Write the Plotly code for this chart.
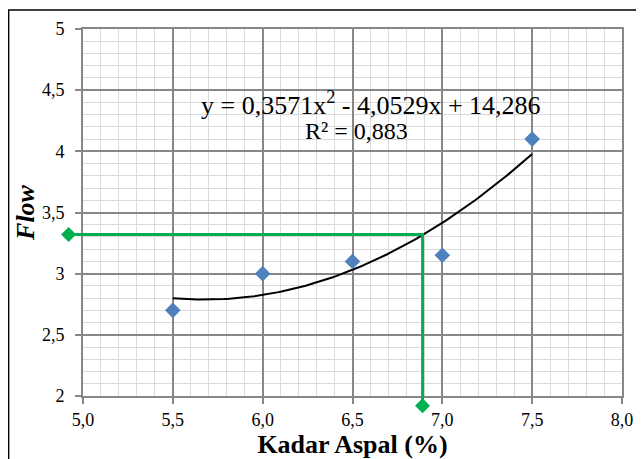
import numpy as np
import plotly.graph_objects as go

# Data
kadar_aspal = [5.5, 6.0, 6.5, 7.0, 7.5]
flow = [2.7, 3.0, 3.1, 3.15, 4.1]

# Green guide line (optimum reading)
guide_x = [4.92, 6.89, 6.89]
guide_y = [3.32, 3.32, 1.92]

x_range = [5, 8]
y_range = [2, 5]
x_ticks = [5.0, 5.5, 6.0, 6.5, 7.0, 7.5, 8.0]
x_ticktext = ["5,0", "5,5", "6,0", "6,5", "7,0", "7,5", "8,0"]
y_ticks = [2, 2.5, 3, 3.5, 4, 4.5, 5]
y_ticktext = ["2", "2,5", "3", "3,5", "4", "4,5", "5"]

eq_text = "y = 0,3571x<sup>2</sup> - 4,0529x + 14,286"
r2_text = "R² = 0,883"

# Polynomial trendline fitted from the data
coef = np.polyfit(kadar_aspal, flow, 2)
tx = np.linspace(min(kadar_aspal), max(kadar_aspal), 120)
ty = np.polyval(coef, tx)

FONT = "Liberation Serif"
MAJOR = "#878787"
MINOR = "#DADADA"
GREEN = "#00B050"


def to_paper(v, r):
    return (v - r[0]) / (r[1] - r[0])


fig = go.Figure()
fig.add_trace(go.Scatter(x=tx, y=ty, mode="lines",
                         line=dict(color="black", width=2), showlegend=False,
                         hoverinfo="skip"))
fig.add_trace(go.Scatter(x=guide_x, y=guide_y, mode="lines",
                         line=dict(color=GREEN, width=3), showlegend=False))
# parts of the guide line that lie outside the plot area (not clipped)
fig.add_shape(type="line", xref="paper", yref="paper",
              x0=to_paper(guide_x[0], x_range), y0=to_paper(guide_y[0], y_range),
              x1=0, y1=to_paper(guide_y[1], y_range),
              line=dict(color=GREEN, width=3))
fig.add_shape(type="line", xref="paper", yref="paper",
              x0=to_paper(guide_x[1], x_range), y0=0,
              x1=to_paper(guide_x[2], x_range), y1=to_paper(guide_y[2], y_range),
              line=dict(color=GREEN, width=3))
# diamond end markers of the guide line (outside the plot area)
for gx, gy in [(guide_x[0], guide_y[0]), (guide_x[-1], guide_y[-1])]:
    fig.add_shape(type="path", xref="paper", yref="paper",
                  xsizemode="pixel", ysizemode="pixel",
                  xanchor=to_paper(gx, x_range), yanchor=to_paper(gy, y_range),
                  path="M -7.5 0 L 0 7.5 L 7.5 0 L 0 -7.5 Z",
                  fillcolor=GREEN, line=dict(color=GREEN, width=0))
fig.add_trace(go.Scatter(x=kadar_aspal, y=flow, mode="markers",
                         marker=dict(symbol="diamond", size=12, color="#4F81BD"),
                         showlegend=False))

fig.add_annotation(x=6.603, y=4.391, xref="x", yref="y", text=eq_text, showarrow=False,
                   font=dict(family=FONT, size=26, color="black"))
fig.add_annotation(x=6.525, y=4.17, xref="x", yref="y", text=r2_text, showarrow=False,
                   font=dict(family=FONT, size=24, color="black"))

# Outer chart frame
fig.add_shape(type="rect", xref="paper", yref="paper",
              x0=-0.138, y0=-0.3, x1=1.2, y1=1.052,
              line=dict(color="black", width=1.5), layer="below")

# The page body adds an 8 px offset, so margins/size are compensated for it
fig.update_layout(
    width=636, height=451,
    margin=dict(l=75, r=22, t=21, b=63),
    paper_bgcolor="white", plot_bgcolor="white",
    separators=", ",
    font=dict(family=FONT, size=18, color="black"),
    xaxis=dict(range=x_range, tickvals=x_ticks, ticktext=x_ticktext,
               automargin=False,
               showgrid=True, gridcolor=MAJOR, gridwidth=2,
               minor=dict(dtick=0.1, tick0=5, showgrid=True, gridcolor=MINOR, gridwidth=1),
               showline=True, linecolor=MAJOR, linewidth=2, mirror=True,
               ticks="outside", ticklen=6, tickcolor=MAJOR, tickwidth=2,
               zeroline=False,
               title=dict(text="<b>Kadar Aspal (%)</b>", font=dict(family=FONT, size=26),
                          standoff=2)),
    yaxis=dict(range=y_range, tickvals=y_ticks, ticktext=y_ticktext,
               automargin=False,
               showgrid=True, gridcolor=MAJOR, gridwidth=2,
               minor=dict(dtick=0.1, tick0=2, showgrid=True, gridcolor=MINOR, gridwidth=1),
               showline=True, linecolor=MAJOR, linewidth=2, mirror=True,
               ticks="outside", ticklen=6, tickcolor=MAJOR, tickwidth=2,
               ticklabelstandoff=7,
               zeroline=False,
               title=dict(text="<b><i>Flow</i></b>", font=dict(family=FONT, size=26),
                          standoff=0)),
)

fig.write_html("out.html")
